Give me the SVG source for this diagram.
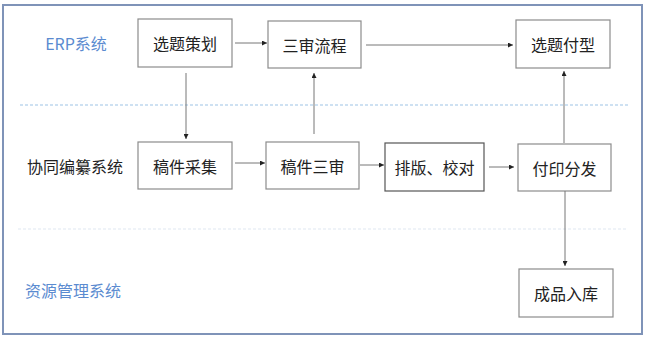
<svg xmlns="http://www.w3.org/2000/svg" width="647" height="339" viewBox="0 0 647 339">
<defs>
<marker id="ah" viewBox="0 0 10 10" refX="10" refY="5" markerWidth="5" markerHeight="5" orient="auto" markerUnits="userSpaceOnUse">
<path d="M0,0 L10,5 L0,10 z" fill="#222"/>
</marker>
</defs>
<style>
.box{fill:#fff;stroke:#8c8c8c;stroke-width:1.2}
.box2{fill:#fff;stroke:#555;stroke-width:1.2}
.t{font-family:"Noto Sans CJK SC","Liberation Sans",sans-serif;font-size:16px;fill:#222;text-anchor:middle;dominant-baseline:central}
.lane{font-family:"Noto Sans CJK SC","Liberation Sans",sans-serif;font-size:16px;text-anchor:middle;dominant-baseline:central}
.c{stroke:#777;stroke-width:1;fill:none;marker-end:url(#ah)}
</style>
<rect x="0" y="0" width="647" height="339" fill="#fff"/>
<rect x="3" y="5" width="639" height="329" fill="#fff" stroke="#7f93b8" stroke-width="2"/>
<line x1="20" y1="105" x2="630" y2="105" stroke="#9dc3e6" stroke-width="1.2" stroke-dasharray="3,2"/>
<line x1="18" y1="229" x2="627" y2="229" stroke="#dfe7f1" stroke-width="1.2" stroke-dasharray="3,2"/>
<g id="lanes">
<text class="lane" x="76" y="43" fill="#5b8bd0">ERP系统</text>
<text class="lane" x="75" y="166" fill="#222">协同编纂系统</text>
<text class="lane" x="73" y="290" fill="#5b8bd0">资源管理系统</text>
</g>
<g id="n1"><rect class="box" x="138" y="19" width="94" height="48"/><text class="t" x="185" y="43">选题策划</text></g>
<g id="n2"><rect class="box" x="268" y="21" width="93" height="47"/><text class="t" x="314.5" y="44.5">三审流程</text></g>
<g id="n3"><rect class="box" x="516" y="20" width="94" height="48"/><text class="t" x="563" y="44">选题付型</text></g>
<g id="n4"><rect class="box" x="138" y="142" width="94" height="47"/><text class="t" x="185" y="165.5">稿件采集</text></g>
<g id="n5"><rect class="box" x="266" y="142" width="93" height="47"/><text class="t" x="312.5" y="165.5">稿件三审</text></g>
<g id="n6"><rect class="box2" x="385" y="143" width="99" height="48"/><text class="t" x="434.5" y="167">排版、校对</text></g>
<g id="n7"><rect class="box" x="518" y="144" width="93" height="47"/><text class="t" x="564.5" y="167.5">付印分发</text></g>
<g id="n8"><rect class="box" x="519" y="269" width="94" height="48"/><text class="t" x="566" y="293">成品入库</text></g>
<g id="connectors">
<line class="c" x1="235" y1="43" x2="267" y2="43"/>
<line class="c" x1="366" y1="45" x2="513" y2="45"/>
<line class="c" x1="186" y1="73" x2="186" y2="139"/>
<line class="c" x1="314" y1="134" x2="314" y2="73"/>
<line class="c" x1="235" y1="163" x2="265" y2="163"/>
<line class="c" x1="360" y1="165" x2="384" y2="165"/>
<line class="c" x1="489" y1="167" x2="514" y2="167"/>
<line class="c" x1="564" y1="143" x2="564" y2="71"/>
<line class="c" x1="565" y1="191" x2="565" y2="266"/>
</g>
</svg>
